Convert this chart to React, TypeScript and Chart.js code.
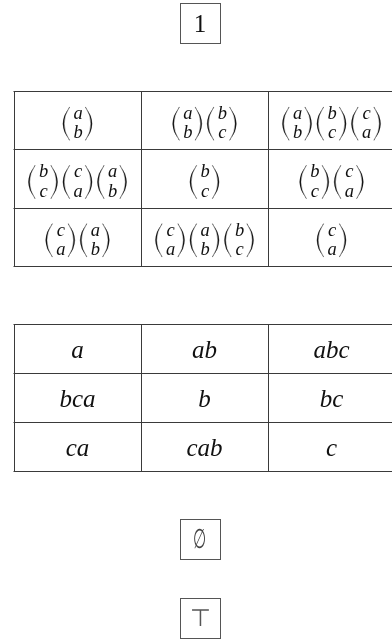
import React, { useEffect, useRef } from "react";
import { Chart, registerables } from "chart.js";

Chart.register(...registerables);

// ---- data ----
const boxLabels = ["1", "\u2205", "\u22A4"];
// each cell: list of binomials, each binomial "top,bottom" letters
const binomRow1 = [["ab"], ["ab", "bc"], ["ab", "bc", "ca"]];
const binomRow2 = [["bc", "ca", "ab"], ["bc"], ["bc", "ca"]];
const binomRow3 = [["ca", "ab"], ["ca", "ab", "bc"], ["ca"]];
const wordRow1 = ["a", "ab", "abc"];
const wordRow2 = ["bca", "b", "bc"];
const wordRow3 = ["ca", "cab", "c"];

const binomRows = [binomRow1, binomRow2, binomRow3];
const wordRows = [wordRow1, wordRow2, wordRow3];

// ---- layout (in scale units = page px) ----
const W = 392;
const H = 641;
const TABLE_LEFT = 14;
const COL_W = 127;
const T1_TOP = 91;
const T1_ROW = 58.33;
const T2_TOP = 324;
const T2_ROW = 49;
const BOX_CX = 200;
const BOX_SIZE = 40;
const BOX_TOPS = [3, 519, 597.5];

const SERIF = "'Liberation Serif', 'DejaVu Serif', serif";

const drawPlugin = {
  id: "tablesAndBoxes",
  afterDraw(chart: any) {
    const ctx: CanvasRenderingContext2D = chart.ctx;
    const xs = chart.scales.x;
    const ys = chart.scales.y;
    const X = (v: number) => xs.getPixelForValue(v);
    const Y = (v: number) => ys.getPixelForValue(v);
    const crisp = (p: number) => Math.round(p) + 0.5;

    ctx.save();

    const drawGrid = (top: number, rowH: number) => {
      ctx.strokeStyle = "#3a3a3a";
      ctx.lineWidth = 1;
      ctx.beginPath();
      for (let r = 0; r <= 3; r++) {
        const yy = crisp(Y(top + r * rowH));
        ctx.moveTo(X(TABLE_LEFT) - 0.5, yy);
        ctx.lineTo(X(TABLE_LEFT + 3 * COL_W) + 1, yy);
      }
      for (let c = 0; c <= 3; c++) {
        const xx = crisp(X(TABLE_LEFT + c * COL_W));
        ctx.moveTo(xx, crisp(Y(top)));
        ctx.lineTo(xx, crisp(Y(top + 3 * rowH)));
      }
      ctx.stroke();
    };

    const drawParen = (endX: number, dir: number, axis: number) => {
      const half = 16.5;
      const bOut = 6.8;
      const bIn = 5.3;
      const yT = axis - half;
      const yB = axis + half;
      ctx.beginPath();
      ctx.moveTo(endX, yT);
      ctx.quadraticCurveTo(endX - dir * 2 * bOut, axis, endX, yB);
      ctx.lineTo(endX - dir * 0.4, yB);
      ctx.quadraticCurveTo(endX - dir * 2 * bIn, axis, endX - dir * 0.4, yT);
      ctx.closePath();
      ctx.fillStyle = "#151515";
      ctx.fill();
      ctx.lineWidth = 0.3;
      ctx.strokeStyle = "#151515";
      ctx.stroke();
    };

    const drawBinom = (cx: number, axis: number, pair: string) => {
      drawParen(cx - 7.8, 1, axis);
      drawParen(cx + 7.8, -1, axis);
      ctx.fillStyle = "#111";
      ctx.font = `italic 18.5px ${SERIF}`;
      ctx.textAlign = "center";
      ctx.textBaseline = "alphabetic";
      ctx.fillText(pair[0], cx + 0.5, axis - 4.8);
      ctx.fillText(pair[1], cx + 0.5, axis + 14.6);
    };

    // table 1 (binomials)
    drawGrid(T1_TOP, T1_ROW);
    binomRows.forEach((row, r) => {
      const centerY = Y(T1_TOP + (r + 0.5) * T1_ROW);
      const axis = centerY + 3.5;
      row.forEach((cell, c) => {
        const cellCx = X(TABLE_LEFT + (c + 0.5) * COL_W);
        const pitch = 34.5;
        const start = cellCx - ((cell.length - 1) * pitch) / 2;
        cell.forEach((pair, i) => drawBinom(start + i * pitch, axis, pair));
      });
    });

    // table 2 (words)
    drawGrid(T2_TOP, T2_ROW);
    ctx.fillStyle = "#111";
    ctx.font = `italic 25px ${SERIF}`;
    ctx.textAlign = "center";
    ctx.textBaseline = "alphabetic";
    wordRows.forEach((row, r) => {
      const baseline = Y(T2_TOP + (r + 0.5) * T2_ROW) + 9.5;
      row.forEach((w, c) => {
        ctx.fillText(w, X(TABLE_LEFT + (c + 0.5) * COL_W), baseline);
      });
    });

    // boxes
    boxLabels.forEach((label, i) => {
      const top = BOX_TOPS[i];
      const left = BOX_CX - BOX_SIZE / 2;
      ctx.strokeStyle = "#555";
      ctx.lineWidth = 1;
      ctx.strokeRect(crisp(X(left)), crisp(Y(top)), BOX_SIZE, BOX_SIZE);
      const cy = Y(top + BOX_SIZE / 2);
      ctx.textAlign = "center";
      ctx.textBaseline = "alphabetic";
      if (i === 0) {
        ctx.fillStyle = "#111";
        ctx.font = `25px ${SERIF}`;
        ctx.fillText(label, X(BOX_CX), cy + 9);
      } else if (i === 1) {
        ctx.save();
        ctx.fillStyle = "#444";
        ctx.font = `200 27px 'DejaVu Sans', sans-serif`;
        ctx.translate(X(BOX_CX), cy + 9);
        ctx.scale(0.56, 1);
        ctx.fillText(label, 0, 0);
        ctx.restore();
      } else {
        ctx.fillStyle = "#555";
        ctx.font = `200 24px 'DejaVu Sans', sans-serif`;
        ctx.fillText(label, X(BOX_CX), cy + 8.5);
      }
    });

    ctx.restore();
  },
};

export default function App() {
  const ref = useRef<HTMLCanvasElement | null>(null);
  useEffect(() => {
    if (!ref.current) return;
    const chart = new Chart(ref.current, {
      type: "scatter",
      data: { datasets: [] },
      options: {
        animation: false,
        responsive: false,
        maintainAspectRatio: false,
        layout: { padding: 0 },
        plugins: { legend: { display: false }, tooltip: { enabled: false } },
        scales: {
          x: { type: "linear", min: 0, max: W, display: false },
          y: { type: "linear", min: 0, max: H, reverse: true, display: false },
        },
      },
      plugins: [drawPlugin],
    } as any);
    return () => chart.destroy();
  }, []);
  return (
    <div style={{ position: "fixed", left: 0, top: 0, width: W, height: H, background: "#fff" }}>
      <canvas ref={ref} width={W} height={H} style={{ display: "block" }} />
    </div>
  );
}
